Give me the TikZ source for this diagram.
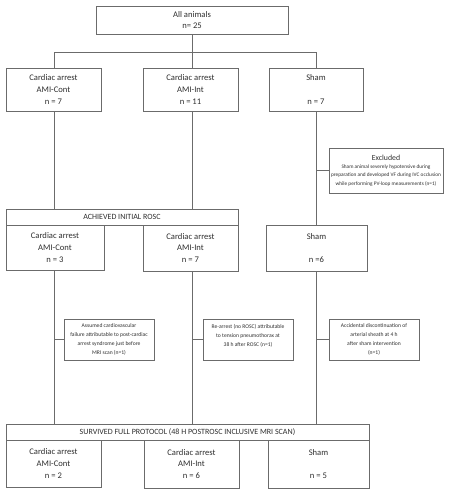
\documentclass[tikz,border=0pt]{standalone}
\usepackage{fontspec}
\setmainfont{Carlito}
\definecolor{linec}{gray}{0.42}
\definecolor{textc}{gray}{0.18}
\tikzset{
  box/.style={draw=linec, line width=0.7pt, inner sep=0pt, align=center, text=textc,
    font=\fontsize{8.6}{11.6}\selectfont},
  hdr/.style={box, font=\fontsize{8}{10}\selectfont},
  excl/.style={box, font=\fontsize{5.6}{8.9}\selectfont},
  conn/.style={draw=linec, line width=0.7pt}
}
\begin{document}
\begin{tikzpicture}[x=1pt,y=-1pt]
\useasboundingbox (0,0) rectangle (474,495);
% top
\node[box, minimum width=192pt, minimum height=28pt] (top) at (192,20) {All animals\\n= 25};
% row 1
\node[box, minimum width=95pt, minimum height=43pt] (a1) at (53.5,89.5) {Cardiac arrest\\AMI-Cont\\n = 7};
\node[box, minimum width=95pt, minimum height=43pt] (b1) at (190.5,89.5) {Cardiac arrest\\AMI-Int\\n = 11};
\node[box, minimum width=94pt, minimum height=43pt] (c1) at (316,89.5) {Sham\\[11.6pt]n = 7};
% excluded
\node[excl, font=\fontsize{5.3}{8.4}\selectfont, minimum width=114pt, minimum height=45pt] (ex) at (386,170.5) {{\fontsize{7.8}{9}\selectfont Excluded}\\[-0.5pt]Sham animal severely hypotensive during\\preparation and developed VF during IVC occlusion\\while performing PV-loop measurements (n=1)};
% row 2
\node[hdr, minimum width=232pt, minimum height=16pt] (h2) at (122,217) {ACHIEVED INITIAL ROSC};
\node[box, minimum width=98pt, minimum height=45pt] (a2) at (55,247.5) {Cardiac arrest\\AMI-Cont\\n = 3};
\node[box, minimum width=95pt, minimum height=46pt] (b2) at (190.5,248) {Cardiac arrest\\AMI-Int\\n = 7};
\node[box, minimum width=101pt, minimum height=46pt] (c2) at (316.5,248) {Sham\\[11.6pt]n =6};
% exclusions row 3
\node[excl, minimum width=90pt, minimum height=41pt] (e1) at (109,339.5) {Assumed cardiovascular\\failure attributable to post-cardiac\\arrest syndrome just before\\MRI scan (n=1)};
\node[excl, minimum width=90pt, minimum height=41pt] (e2) at (248,339.5) {Re-arrest (no ROSC) attributable\\to tension pneumothorax at\\38 h after ROSC (n=1)\\\mbox{}};
\node[excl, minimum width=90pt, minimum height=41pt] (e3) at (374,339.5) {Accidental discontinuation of\\arterial sheath at 4 h\\after sham intervention\\(n=1)};
% row 4
\node[hdr, minimum width=363pt, minimum height=16pt] (h4) at (187.5,432) {SURVIVED FULL PROTOCOL (48 H POSTROSC INCLUSIVE MRI SCAN)};
\node[box, minimum width=95pt, minimum height=47pt] (a4) at (53.5,463.5) {Cardiac arrest\\AMI-Cont\\n = 2};
\node[box, minimum width=95pt, minimum height=48pt] (b4) at (191.5,464) {Cardiac arrest\\AMI-Int\\n = 6};
\node[box, minimum width=101pt, minimum height=48pt] (c4) at (318.5,464) {Sham\\[11.6pt]n = 5};
% connectors
\coordinate (j) at (192,52);
\coordinate (jl) at (54,52);
\coordinate (jr) at (316,52);
\draw[conn] (top.south) -- (j);
\draw[conn] (a1.north -| jl) -- (jl) -- (jr) -- (c1.north);
\draw[conn] (j) -- (j |- b1.north);
\draw[conn] (a1.south -| jl) -- (jl |- h2.north);
\draw[conn] (b1.south -| j) -- (j |- h2.north);
\draw[conn] (c1.south) -- (jr |- c2.north);
\draw[conn] (jr |- ex.west) -- (ex.west);
\draw[conn] (a2.south -| jl) -- (jl |- h4.north);
\draw[conn] (jl |- e1.west) -- (e1.west);
\draw[conn] (b2.south -| j) -- (j |- h4.north);
\draw[conn] (j |- e2.west) -- (e2.west);
\draw[conn] (c2.south -| jr) -- (jr |- h4.north);
\draw[conn] (jr |- e3.west) -- (e3.west);
\end{tikzpicture}
\end{document}
